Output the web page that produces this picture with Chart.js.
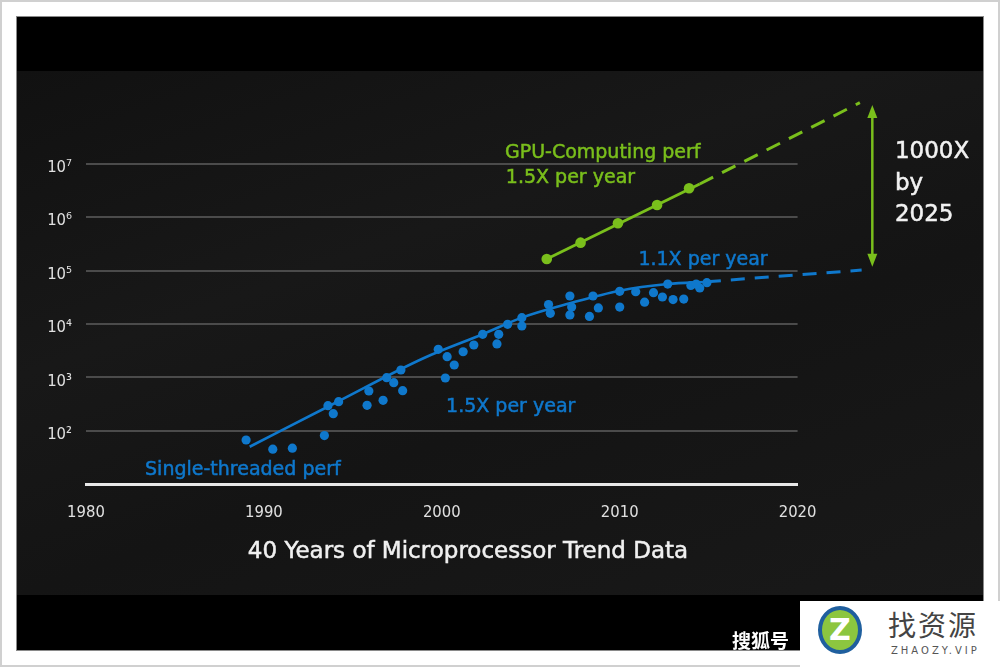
<!DOCTYPE html>
<html>
<head>
<meta charset="utf-8">
<script src="https://cdn.jsdelivr.net/npm/chart.js@4.4.1/dist/chart.umd.min.js"></script>
<style>
  html, body { margin: 0; padding: 0; background: #fff; }
  #page { position: relative; width: 1000px; height: 667px; overflow: hidden; }
  .edge { position: absolute; left: 0; top: 0; width: 1000px; height: 667px; box-sizing: border-box; border: 2px solid #d0d0d0; }
  .frame { position: absolute; left: 16px; top: 16px; width: 968px; height: 635px; box-sizing: border-box; background: #000; border: 1px solid #8a8a8a; }
  .panel { position: absolute; left: 17px; top: 71px; width: 966px; height: 524px;
           background: linear-gradient(160deg, #111 0%, #181818 35%, #141414 60%, #191919 100%); }
  canvas { position: absolute; left: 0; top: 0; }
  .wm-box { position: absolute; left: 800px; top: 601px; width: 200px; height: 66px; background: #fff; }
  .wm-so { position: absolute; left: 732px; top: 626px; color: #fff; font: bold 19px "Noto Sans CJK SC"; }
  .wm-logo { position: absolute; left: 818px; top: 606px; width: 44px; height: 48px; border-radius: 50%;
             background: #8cc63f; border: 4px solid #1f5f9e; box-sizing: border-box; color: #fff;
             font: bold 30px "DejaVu Sans"; text-align: center; line-height: 40px; }
  .wm-cn { position: absolute; left: 888px; top: 604px; color: #444; font: 28px "Noto Sans CJK SC"; letter-spacing: 2px; }
  .wm-en { position: absolute; left: 891px; top: 645px; color: #555; font: 10px "DejaVu Sans"; letter-spacing: 3px; }
</style>
</head>
<body>
<div id="page">
  <div class="edge"></div>
  <div class="frame"></div>
  <div class="panel"></div>
  <canvas id="trendChart" width="1000" height="667"></canvas>
  <div class="wm-so">搜狐号</div>
  <div class="wm-box"></div>
  <div class="wm-logo">Z</div>
  <div class="wm-cn">找资源</div>
  <div class="wm-en">ZHAOZY.VIP</div>
</div>
<script>
// single-threaded performance samples (year, relative perf)
const stYears = [1989.0, 1990.5, 1991.6, 1993.4, 1993.6, 1993.9, 1994.2, 1995.8, 1995.9, 1996.7,
                 1996.9, 1997.3, 1997.7, 1997.8, 1999.8, 2000.3, 2000.7, 2000.2, 2001.2, 2001.8,
                 2002.3, 2003.2, 2003.1, 2003.7, 2004.5, 2004.5, 2006.0, 2006.1, 2007.2, 2007.3,
                 2007.2, 2008.3, 2008.5, 2008.8, 2010.0, 2010.0, 2010.9, 2011.4, 2011.9, 2012.4,
                 2013.0, 2013.6, 2012.7, 2014.0, 2014.5, 2014.9, 2014.3];
const stPerf = [67, 45, 47, 81, 294, 208, 349, 299, 554, 370,
                984, 793, 1370, 561, 3340, 2430, 1700, 970, 3010, 4030,
                6380, 6380, 4210, 9820, 13060, 9140, 23070, 15800, 33300, 20700,
                14700, 13800, 33300, 19900, 20700, 40700, 40100, 25500, 38400, 31900,
                28500, 29200, 55800, 52400, 47000, 59100, 55800];

// fitted trend and projection
const stTrendYears = [1989.2, 1994.0, 1999.0, 2002.3, 2004.5, 2007.2, 2010.0, 2012.7, 2014.9];
const stTrendPerf = [50, 330, 2300, 6400, 13100, 24300, 41900, 55800, 61700];
const stProjYears = [2014.9, 2023.6];
const stProjPerf = [61700, 102000];

// GPU computing
const gpuYears = [2005.9, 2007.8, 2009.9, 2012.1, 2013.9];
const gpuPerf = [164000, 332000, 766000, 1690000, 3460000];
const gpuTrendYears = [2005.9, 2014.5];
const gpuTrendPerf = [164000, 4170000];
const gpuProjYears = [2014.5, 2023.5];
const gpuProjPerf = [4170000, 139000000];

// 1000X gap arrow
const gapYear = 2024.2;
const gapTop = 126000000;
const gapBottom = 117000;

const xTicks = [1980, 1990, 2000, 2010, 2020];
const yTicks = [1e2, 1e3, 1e4, 1e5, 1e6, 1e7];

const BLUE = '#0f78cc';
const GREEN = '#7abf1c';
const SUP = ['⁰', '¹', '²', '³', '⁴', '⁵', '⁶', '⁷', '⁸', '⁹'];

const pts = (xs, ys) => xs.map((x, i) => ({ x, y: ys[i] }));

const overlay = {
  id: 'overlay',
  afterDraw(chart) {
    const { ctx } = chart;
    const xs = chart.scales.x, ys = chart.scales.y;

    // double arrow between the two projections
    const ax = xs.getPixelForValue(gapYear);
    const ay1 = ys.getPixelForValue(gapTop);
    const ay2 = ys.getPixelForValue(gapBottom);
    ctx.save();
    ctx.strokeStyle = GREEN;
    ctx.fillStyle = GREEN;
    ctx.lineWidth = 2.5;
    ctx.beginPath();
    ctx.moveTo(ax, ay1 + 8);
    ctx.lineTo(ax, ay2 - 8);
    ctx.stroke();
    ctx.beginPath();
    ctx.moveTo(ax, ay1); ctx.lineTo(ax - 5, ay1 + 13); ctx.lineTo(ax + 5, ay1 + 13); ctx.closePath();
    ctx.fill();
    ctx.beginPath();
    ctx.moveTo(ax, ay2); ctx.lineTo(ax - 5, ay2 - 13); ctx.lineTo(ax + 5, ay2 - 13); ctx.closePath();
    ctx.fill();

    // annotations (anchored on data coordinates, alphabetic baseline)
    const notes = [
      ['GPU-Computing perf', 2003.55, 7.101, GREEN, 19],
      ['1.5X per year', 2003.6, 6.644, GREEN, 19],
      ['1.1X per year', 2011.05, 5.103, BLUE, 19],
      ['1.5X per year', 2000.24, 2.356, BLUE, 19],
      ['Single-threaded perf', 1983.32, 1.17, BLUE, 19],
      ['1000X', 2025.47, 7.101, '#f2f2f2', 23],
      ['by', 2025.47, 6.507, '#f2f2f2', 23],
      ['2025', 2025.47, 5.933, '#f2f2f2', 23]
    ];
    ctx.textAlign = 'left';
    ctx.textBaseline = 'alphabetic';
    ctx.lineWidth = 0.5;
    notes.forEach(([t, yr, lg, c, sz]) => {
      const px = xs.getPixelForValue(yr), py = ys.getPixelForValue(Math.pow(10, lg));
      ctx.fillStyle = c;
      ctx.strokeStyle = c;
      ctx.font = sz + 'px "DejaVu Sans"';
      ctx.fillText(t, px, py);
      ctx.strokeText(t, px, py);
    });

    // slide title
    ctx.fillStyle = '#f0f0f0';
    ctx.strokeStyle = '#f0f0f0';
    ctx.font = '23px "DejaVu Sans"';
    ctx.textAlign = 'center';
    ctx.fillText('40 Years of Microprocessor Trend Data', 468, 558);
    ctx.strokeText('40 Years of Microprocessor Trend Data', 468, 558);
    ctx.restore();
  }
};

new Chart(document.getElementById('trendChart'), {
  type: 'line',
  data: {
    datasets: [
      {
        label: 'Single-threaded perf',
        type: 'scatter',
        data: pts(stYears, stPerf),
        backgroundColor: BLUE,
        borderColor: BLUE,
        pointRadius: 4.6,
        pointBorderWidth: 0,
        clip: false
      },
      {
        label: 'Single-threaded trend',
        data: pts(stTrendYears, stTrendPerf),
        borderColor: BLUE,
        borderWidth: 2.6,
        pointRadius: 0,
        cubicInterpolationMode: 'monotone',
        clip: false
      },
      {
        label: 'Single-threaded projection',
        data: pts(stProjYears, stProjPerf),
        borderColor: BLUE,
        borderWidth: 3,
        borderDash: [14, 10],
        pointRadius: 0,
        clip: false
      },
      {
        label: 'GPU-Computing perf',
        data: pts(gpuTrendYears, gpuTrendPerf),
        borderColor: GREEN,
        borderWidth: 3,
        pointRadius: 0,
        clip: false
      },
      {
        label: 'GPU points',
        type: 'scatter',
        data: pts(gpuYears, gpuPerf),
        backgroundColor: GREEN,
        borderColor: GREEN,
        pointRadius: 5.3,
        pointBorderWidth: 0,
        clip: false
      },
      {
        label: 'GPU projection',
        data: pts(gpuProjYears, gpuProjPerf),
        borderColor: GREEN,
        borderWidth: 3,
        borderDash: [15, 10],
        pointRadius: 0,
        clip: false
      }
    ]
  },
  options: {
    responsive: false,
    animation: false,
    events: [],
    layout: {
      padding: { left: 0, right: 202.4, top: 83.6, bottom: 142.9 }
    },
    plugins: {
      legend: { display: false },
      tooltip: { enabled: false }
    },
    scales: {
      x: {
        type: 'linear',
        min: 1980,
        max: 2020,
        afterBuildTicks: s => { s.ticks = xTicks.map(v => ({ value: v })); },
        afterFit: s => { s.height = 40; },
        grid: { display: false },
        border: { display: true, color: '#e8e8e8', width: 3 },
        ticks: {
          padding: 11,
          color: '#e0e0e0',
          font: { family: 'DejaVu Sans Condensed', size: 16.5 },
          callback: v => String(v)
        }
      },
      y: {
        type: 'logarithmic',
        min: 10,
        max: Math.pow(10, 8.5),
        afterBuildTicks: s => { s.ticks = yTicks.map(v => ({ value: v })); },
        afterFit: s => { s.width = 86; },
        grid: { color: '#4b4b4b', lineWidth: 2, drawTicks: false },
        border: { display: false },
        ticks: {
          padding: 14,
          labelOffset: 4,
          color: '#e0e0e0',
          font: { family: 'DejaVu Sans Condensed', size: 16.5 },
          callback: v => '10' + SUP[Math.round(Math.log10(v))]
        }
      }
    }
  },
  plugins: [overlay]
});
</script>
</body>
</html>
